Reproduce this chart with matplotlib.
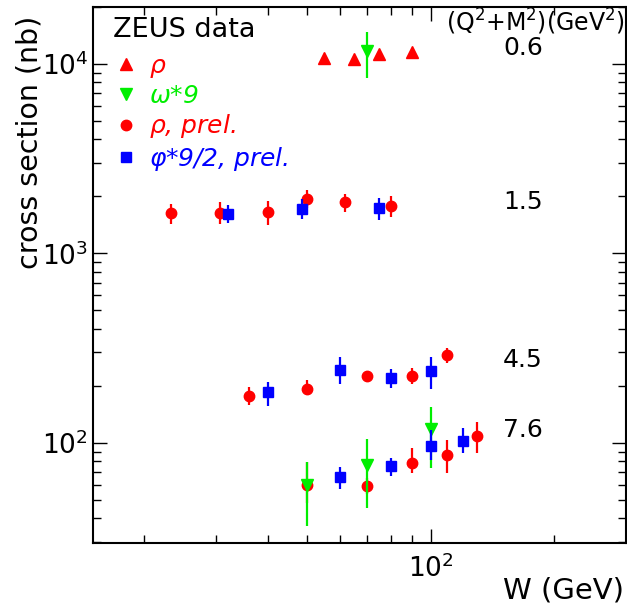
import matplotlib
matplotlib.use('Agg')
import matplotlib.pyplot as plt
from matplotlib.lines import Line2D
import numpy as np

plt.rcParams['font.family'] = ['DejaVu Sans']
plt.rcParams['mathtext.fontset'] = 'dejavusans'

RED = '#ff0000'
GREEN = '#00ee00'
BLUE = '#0000ff'

# rho, Q2+M2 = 0.6
w_rho = [55, 65, 75, 90]
s_rho = [10760, 10630, 11290, 11570]

# omega * 9
w_omega = [70, 50, 70, 100]
s_omega = [11720, 60, 76.6, 118.6]
lo_omega = [8435, 36.5, 45.4, 73.8]
hi_omega = [14760, 79.4, 105, 155]

# rho, prel. (Q2+M2 = 1.5, 4.5, 7.6)
w_rho_prel = [23.3, 30.7, 40, 50, 62, 80, 36, 50, 70, 90, 110, 50, 70, 90, 110, 130]
s_rho_prel = [1637, 1637, 1657, 1940, 1871, 1781, 177, 193, 226, 226, 291,
              60, 59.3, 78.4, 86.4, 109]
lo_rho_prel = [1432, 1432, 1414, 1738, 1657, 1559, 158, 179, 215, 205, 264,
               48.3, 54, 69.5, 69.5, 88.5]
hi_rho_prel = [1823, 1867, 1893, 2163, 2060, 2011, 198, 215, 240, 249, 317,
               79.4, 65, 94.1, 103.7, 129.1]

# phi * 9/2, prel.
w_phi = [32, 48.6, 75, 40, 60, 80, 100, 60, 80, 100, 120]
s_phi = [1616, 1718, 1738, 186, 243, 220, 240, 66.2, 75.6, 96.4, 102.5]
lo_phi = [1449, 1521, 1503, 157, 205, 195, 193, 57.2, 67, 81.3, 88.5]
hi_phi = [1803, 1940, 1963, 210, 284, 246, 284, 74.7, 83.3, 117.1, 120]

q2_labels = ['0.6', '1.5', '4.5', '7.6']
q2_label_y = [48, 202, 360, 430]  # pixel rows of the labels

W, H = 627, 615
fig = plt.figure(figsize=(W / 100, H / 100), dpi=100)
ax = fig.add_axes([93 / W, 1 - 543 / H, 533 / W, 536 / H])
ax.set_xscale('log')
ax.set_yscale('log')
ax.set_xlim(15, 300)
ax.set_ylim(29.6, 20000)


def _errs(s, lo, hi):
    s = np.array(s)
    return [s - np.array(lo), np.array(hi) - s]


ax.errorbar(w_rho_prel, s_rho_prel, yerr=_errs(s_rho_prel, lo_rho_prel, hi_rho_prel),
            fmt='o', color=RED, ms=7.5, elinewidth=1.6, capsize=0, zorder=3)
ax.errorbar(w_omega, s_omega, yerr=_errs(s_omega, lo_omega, hi_omega),
            fmt='v', color=GREEN, ms=8, elinewidth=1.6, capsize=0, zorder=4)
ax.errorbar(w_phi, s_phi, yerr=_errs(s_phi, lo_phi, hi_phi),
            fmt='s', color=BLUE, ms=7, elinewidth=1.6, capsize=0, zorder=5)
ax.plot(w_rho, s_rho, '^', color=RED, ms=8, ls='none', zorder=3)

# axes style
for sp in ax.spines.values():
    sp.set_linewidth(1.5)
ax.tick_params(which='both', direction='in', top=True, right=True, width=1.0)
ax.tick_params(which='major', length=10)
ax.tick_params(which='minor', length=6)
ax.tick_params(axis='both', labelsize=19)
ax.tick_params(axis='x', pad=8)
ax.set_xticks([100])
ax.set_xticklabels([r'$10^{2}$'])
ax.set_yticks([100, 1000, 10000])
ax.set_yticklabels([r'$10^{2}$', r'$10^{3}$', r'$10^{4}$'])

fig.text(30 / W, 1 - 142 / H, 'cross section (nb)', rotation=90,
         ha='center', va='center', fontsize=20.5)
fig.text(624 / W, 1 - 590 / H, 'W (GeV)', ha='right', va='center', fontsize=21)

# legend
fig.text(113 / W, 1 - 30 / H, 'ZEUS data', ha='left', va='center', fontsize=19.5)
handles = [Line2D([], [], marker='^', color=RED, ls='none', ms=8),
           Line2D([], [], marker='v', color=GREEN, ls='none', ms=8),
           Line2D([], [], marker='o', color=RED, ls='none', ms=7.5),
           Line2D([], [], marker='s', color=BLUE, ls='none', ms=7)]
labels = [r'$\rho$', r'$\omega$*9', r'$\rho$, prel.', r'$\varphi$*9/2, prel.']
leg = ax.legend(handles, labels, loc='upper left', bbox_to_anchor=(0.0, 0.950),
                frameon=False, prop={'size': 18, 'style': 'italic'},
                handlelength=1.0, handletextpad=0.45, labelspacing=0.17,
                borderpad=0.3, labelcolor=[RED, GREEN, RED, BLUE])

fig.text(535 / W, 1 - 22 / H, r'(Q$^2$+M$^2$)(GeV$^2$)', ha='center', va='center',
         fontsize=17)
for lab, yy in zip(q2_labels, q2_label_y):
    fig.text(523 / W, 1 - yy / H, lab, ha='center', va='center', fontsize=18)

fig.savefig('out.png', dpi=100)
